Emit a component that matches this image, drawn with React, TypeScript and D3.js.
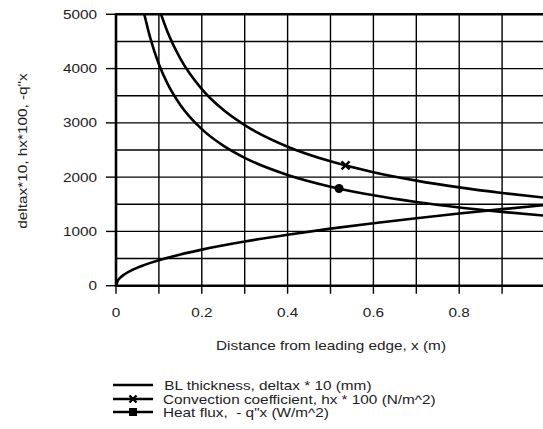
import { useEffect, useRef } from "react";
import { select, scaleLinear, line, curveMonotoneX, range } from "d3";

// values
const blX = [0, 0.005, 0.01, 0.02, 0.05, 0.1, 0.15, 0.2, 0.3, 0.4, 0.5, 0.6, 0.7, 0.8, 0.9, 1.0];
const blThickness = [0, 105, 149, 210, 332, 470, 576, 665, 814, 940, 1051, 1151, 1243, 1329, 1410, 1486];

const hxX = [0.105, 0.12, 0.15, 0.2, 0.25, 0.3, 0.4, 0.5, 0.6, 0.7, 0.8, 0.9, 1.0];
const convection = [5000, 4677, 4183, 3622, 3240, 2958, 2561, 2291, 2091, 1936, 1811, 1708, 1620];

const qX = [0.066, 0.08, 0.1, 0.12, 0.15, 0.2, 0.25, 0.3, 0.4, 0.5, 0.6, 0.7, 0.8, 0.9, 1.0];
const heatFlux = [5000, 4561, 4079, 3724, 3331, 2885, 2580, 2355, 2040, 1824, 1665, 1542, 1442, 1360, 1290];

const hxMarker = { x: 0.535, y: 2215 };
const qMarker = { x: 0.52, y: 1790 };

const xTickLabels = ["0", "0.2", "0.4", "0.6", "0.8"];
const yTicks = [0, 1000, 2000, 3000, 4000, 5000];

const legendLabels = [
    " BL thickness, deltax * 10 (mm)",
    "Convection coefficient, hx * 100 (N/m^2)",
    "Heat flux,  - q\"x (W/m^2)",
];

const FONT = "'Liberation Sans', Arial, sans-serif";
const STRETCH = 1.18; // the original font is a bit wider than Arial

function App() {
    const svgRef = useRef(null);

    useEffect(() => {
        const Width = 543;
        const Height = 429;
        const svg = select(svgRef.current).attr("width", Width).attr("height", Height);
        svg.selectAll("*").remove();

        const xScale = scaleLinear().domain([0, 1]).range([116, 545]);
        const yScale = scaleLinear().domain([0, 5000]).range([285.7, 14.3]);

        const txt = (x, y, s, anchor, rot = 0) =>
            svg
                .append("text")
                .attr("transform", `translate(${x},${y}) rotate(${rot}) scale(${STRETCH},1)`)
                .attr("text-anchor", anchor)
                .attr("font-family", FONT)
                .attr("font-size", 13)
                .attr("fill", "#222")
                .text(s);

        // grid
        const grid = svg.append("g").attr("stroke", "#000").attr("stroke-width", 1.4);
        range(1, 10).forEach((i) => {
            const gx = xScale(i / 10);
            grid.append("line").attr("x1", gx).attr("x2", gx).attr("y1", yScale(5000)).attr("y2", yScale(0) + 8);
        });
        range(1, 10).forEach((i) => {
            const gy = yScale(i * 500);
            grid.append("line").attr("x1", xScale(0)).attr("x2", xScale(1)).attr("y1", gy).attr("y2", gy);
        });

        // ticks
        grid.append("line").attr("x1", xScale(0)).attr("x2", xScale(0)).attr("y1", yScale(0)).attr("y2", yScale(0) + 8);
        yTicks.forEach((v) => {
            grid.append("line").attr("x1", xScale(0) - 10).attr("x2", xScale(0)).attr("y1", yScale(v)).attr("y2", yScale(v));
        });

        // frame
        const frame = svg.append("g").attr("stroke", "#000").attr("stroke-width", 2.6);
        frame.append("line").attr("x1", xScale(0)).attr("x2", xScale(1)).attr("y1", yScale(5000)).attr("y2", yScale(5000));
        frame.append("line").attr("x1", xScale(0)).attr("x2", xScale(1)).attr("y1", yScale(0)).attr("y2", yScale(0));
        frame.append("line").attr("x1", xScale(0)).attr("x2", xScale(0)).attr("y1", yScale(5000) - 1).attr("y2", yScale(0) + 1);

        // tick labels
        yTicks.forEach((v) => txt(97, yScale(v) + 4.5, String(v), "end"));
        xTickLabels.forEach((s) => txt(xScale(+s), 317, s, "middle"));

        // axis titles
        txt(331, 350, "Distance from leading edge, x (m)", "middle");
        txt(27, 151, "deltax*10, hx*100, -q\"x", "middle", -90);

        // curves
        const myLine = line()
            .x((d) => xScale(d[0]))
            .y((d) => yScale(d[1]))
            .curve(curveMonotoneX);

        const series = [
            blX.map((x, i) => [x, blThickness[i]]),
            hxX.map((x, i) => [x, convection[i]]),
            qX.map((x, i) => [x, heatFlux[i]]),
        ];

        svg.append("defs")
            .append("clipPath")
            .attr("id", "plotclip")
            .append("rect")
            .attr("x", xScale(0))
            .attr("y", yScale(5000))
            .attr("width", xScale(1) - xScale(0))
            .attr("height", yScale(0) - yScale(5000));

        svg.append("g")
            .attr("clip-path", "url(#plotclip)")
            .selectAll(".line")
            .data(series)
            .join("path")
            .attr("class", "line")
            .attr("d", myLine)
            .attr("fill", "none")
            .attr("stroke", "#000")
            .attr("stroke-width", 2.6);

        // markers
        const drawCross = (cx, cy, r) => {
            svg.append("path")
                .attr("d", `M${cx - r},${cy - r}L${cx + r},${cy + r}M${cx - r},${cy + r}L${cx + r},${cy - r}`)
                .attr("stroke", "#000")
                .attr("stroke-width", 2.4);
        };
        drawCross(xScale(hxMarker.x), yScale(hxMarker.y), 4);
        svg.append("circle")
            .attr("cx", xScale(qMarker.x))
            .attr("cy", yScale(qMarker.y))
            .attr("r", 4.5)
            .attr("fill", "#000");

        // legend
        const legendY = [385, 399, 412];
        legendLabels.forEach((label, i) => {
            const ly = legendY[i];
            svg.append("line")
                .attr("x1", 113)
                .attr("x2", 153)
                .attr("y1", ly)
                .attr("y2", ly)
                .attr("stroke", "#000")
                .attr("stroke-width", 2.4);
            if (i === 1) drawCross(133, ly, 3.5);
            if (i === 2) svg.append("rect").attr("x", 129).attr("y", ly - 4).attr("width", 8).attr("height", 8).attr("fill", "#000");
            txt(i === 0 ? 160 : 163, ly + 4.5, label, "start").style("white-space", "pre");
        });
    }, []);

    return (
        <svg
            ref={svgRef}
            style={{ position: "absolute", left: 0, top: 0, background: "#fff" }}
        ></svg>
    );
}

export default App;
